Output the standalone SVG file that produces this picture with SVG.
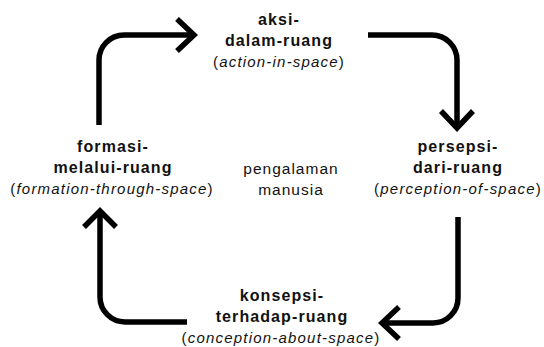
<svg xmlns="http://www.w3.org/2000/svg" width="544" height="347" viewBox="0 0 544 347">
<style>
text{font-family:"Liberation Sans",Arial,Helvetica,sans-serif;fill:#111;text-anchor:middle}
.b{font-size:16px;font-weight:bold;letter-spacing:1.1px}
.i{font-size:15px;font-style:italic;letter-spacing:1.2px}
.p{font-style:normal}
.r{font-size:15.5px;letter-spacing:1px}
.ln{fill:none;stroke:#000;stroke-width:5.5}
.hd{fill:none;stroke:#000;stroke-width:5.5;stroke-linejoin:miter}
</style>
<rect width="544" height="347" fill="#fff"/>
<g id="connectors">
<path class="ln" d="M99,125 V60 A25,25 0 0 1 124,35 H192"/>
<path class="hd" d="M177,19 L194,35 L177,51"/>
<path class="ln" d="M368,35 H432 A25,25 0 0 1 457,60 V127"/>
<path class="hd" d="M441,111 L457,128 L473,111"/>
<path class="ln" d="M458,217 V298 A25,25 0 0 1 433,323 H384"/>
<path class="hd" d="M399,307 L382,323 L399,339"/>
<path class="ln" d="M187,322 H125 A25,25 0 0 1 100,297 V212"/>
<path class="hd" d="M84,227 L100,211 L116,227"/>
</g>
<g id="aksi">
<text class="b" x="279" y="25">aksi-</text>
<text class="b" x="279" y="46">dalam-ruang</text>
<text class="i" x="279" y="67"><tspan class="p">(</tspan>action-in-space<tspan class="p">)</tspan></text>
</g>
<g id="persepsi">
<text class="b" x="458" y="152">persepsi-</text>
<text class="b" x="458" y="173">dari-ruang</text>
<text class="i" x="458" y="194"><tspan class="p">(</tspan>perception-of-space<tspan class="p">)</tspan></text>
</g>
<g id="konsepsi">
<text class="b" x="282" y="301">konsepsi-</text>
<text class="b" x="282" y="322">terhadap-ruang</text>
<text class="i" x="281" y="343"><tspan class="p">(</tspan>conception-about-space<tspan class="p">)</tspan></text>
</g>
<g id="formasi">
<text class="b" x="113" y="152">formasi-</text>
<text class="b" x="113" y="173">melalui-ruang</text>
<text class="i" x="112" y="194"><tspan class="p">(</tspan>formation-through-space<tspan class="p">)</tspan></text>
</g>
<g id="pengalaman">
<text class="r" x="291" y="174">pengalaman</text>
<text class="r" x="291" y="195">manusia</text>
</g>
</svg>
